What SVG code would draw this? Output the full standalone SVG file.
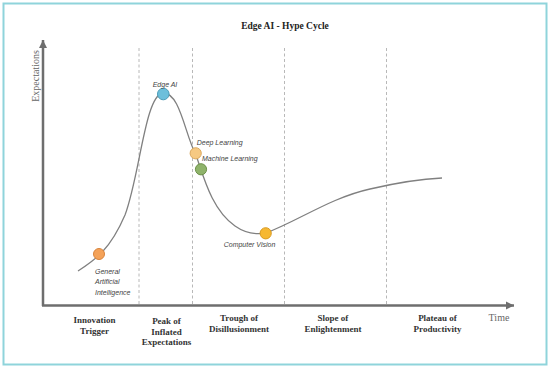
<svg xmlns="http://www.w3.org/2000/svg" width="550" height="368" viewBox="0 0 550 368">
<style>
.frame{fill:#ffffff;stroke:#8fd4db;stroke-width:2}
.title{font-family:"Liberation Serif",serif;font-weight:bold;font-size:9.5px;fill:#222;text-anchor:middle}
.axis{stroke:#6e6e6e;stroke-width:2.5;fill:none}
.axlabel{font-family:"Liberation Serif",serif;font-size:10px;fill:#666;}
.phase{font-family:"Liberation Serif",serif;font-weight:bold;font-size:9px;fill:#333;text-anchor:middle}
.dash{stroke:#b8b8b8;stroke-width:1;stroke-dasharray:3 2.5}
.curve{fill:none;stroke:#808080;stroke-width:1.3}
.lbl{font-family:"Liberation Sans",Arial,sans-serif;font-style:italic;font-size:7px;fill:#444}
.dot{stroke-width:1}
</style>
<defs>
<marker id="arr" markerUnits="userSpaceOnUse" markerWidth="10" markerHeight="10" refX="8" refY="5" orient="auto">
<path d="M0,1 L8,5 L0,9 Z" fill="#6e6e6e"/>
</marker>
</defs>
<rect class="frame" x="3.5" y="3.5" width="543" height="361"/>
<text class="title" x="285" y="29">Edge AI - Hype Cycle</text>
<g id="phases">
<line class="dash" x1="139" y1="48" x2="139" y2="304"/>
<line class="dash" x1="192.5" y1="48" x2="192.5" y2="304"/>
<line class="dash" x1="284.5" y1="48" x2="284.5" y2="304"/>
<line class="dash" x1="386.5" y1="48" x2="386.5" y2="304"/>
<text class="phase" x="94.5"><tspan x="94.5" y="323">Innovation</tspan><tspan x="94.5" y="333.5">Trigger</tspan></text>
<text class="phase" x="166.5"><tspan x="166.5" y="324">Peak of</tspan><tspan x="166.5" y="334.5">Inflated</tspan><tspan x="166.5" y="344.5">Expectations</tspan></text>
<text class="phase" x="239"><tspan x="239" y="321">Trough of</tspan><tspan x="239" y="331.5">Disillusionment</tspan></text>
<text class="phase" x="333"><tspan x="333" y="321">Slope of</tspan><tspan x="333" y="331.5">Enlightenment</tspan></text>
<text class="phase" x="437.5"><tspan x="437.5" y="321">Plateau of</tspan><tspan x="437.5" y="331.5">Productivity</tspan></text>
</g>
<g id="axes">
<line class="axis" x1="43" y1="306" x2="43" y2="40" marker-end="url(#arr)"/>
<line class="axis" x1="42" y1="305.5" x2="514" y2="305.5" marker-end="url(#arr)"/>
<text class="axlabel" transform="translate(39,76) rotate(-90)" text-anchor="middle">Expectations</text>
<text class="axlabel" x="499" y="321" text-anchor="middle">Time</text>
</g>
<g id="connectors">
<path class="curve" d="M78,271 C95,260 110,250 125,215 C140,175 145,95 163,93 C180,92 185,135 196,155 C204,178 212,210 235,226 C245,233 255,235 266,233 C300,220 330,198 370,189 C400,182 420,179 442,178"/>
</g>
<g id="general-ai">
<circle class="dot" cx="99" cy="254" r="5.5" fill="#f4a259" stroke="#d8843c"/>
<text class="lbl"><tspan x="95" y="273.5">General</tspan><tspan x="95" y="284.3">Artificial</tspan><tspan x="95" y="295.2">Intelligence</tspan></text>
</g>
<g id="edge-ai">
<circle class="dot" cx="163.3" cy="94" r="5.8" fill="#6cbfdb" stroke="#4a9cb8"/>
<text class="lbl" x="165" y="86.5" text-anchor="middle">Edge AI</text>
</g>
<g id="deep-learning">
<circle class="dot" cx="195.7" cy="153.3" r="5.6" fill="#f6c982" stroke="#dba95e"/>
<text class="lbl" x="196.7" y="145">Deep Learning</text>
</g>
<g id="machine-learning">
<circle class="dot" cx="201" cy="169.3" r="5.6" fill="#8fb36b" stroke="#6c9049"/>
<text class="lbl" x="202" y="161">Machine Learning</text>
</g>
<g id="computer-vision">
<circle class="dot" cx="265.7" cy="233.3" r="5.6" fill="#f6b832" stroke="#d99a1f"/>
<text class="lbl" x="249.5" y="247" text-anchor="middle">Computer Vision</text>
</g>
</svg>
